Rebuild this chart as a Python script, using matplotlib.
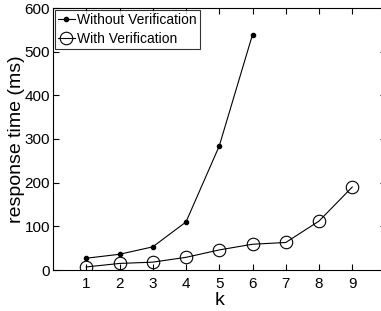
import matplotlib.pyplot as plt
import numpy as np

plt.rcParams['font.family'] = ['Liberation Sans', 'DejaVu Sans']

# data
k_without = [1, 2, 3, 4, 5, 6]
t_without = [27, 36, 53, 110, 284, 539]
k_with = [1, 2, 3, 4, 5, 6, 7, 8, 9]
t_with = [7, 15, 18, 29, 46, 59, 63, 112, 190]
x_ticks = [1, 2, 3, 4, 5, 6, 7, 8, 9]
y_ticks = [0, 100, 200, 300, 400, 500, 600]

fig = plt.figure(figsize=(3.81, 3.11), dpi=100)
# axes runs past the right edge of the figure, as in the reference
ax = fig.add_axes([53/381, (311-270)/311, (385.5-53)/381, (270-8)/311])

ax.plot(k_without, t_without, 'k-', marker='.', markersize=6, linewidth=0.8,
        label='Without Verification')
ax.plot(k_with, t_with, 'k-', marker='o', markersize=9, markerfacecolor='none',
        markeredgewidth=0.8, linewidth=0.8, label='With Verification')

ax.set_xlim(0, 10)
ax.set_ylim(0, 600)
ax.set_xticks(x_ticks)
ax.set_yticks(y_ticks)
ax.tick_params(direction='in', top=True, right=True, labelsize=11, length=4)
ax.tick_params(axis='x', pad=5)
ax.tick_params(axis='y', pad=2)
ax.set_xlabel('k', fontsize=14)
ax.xaxis.set_label_coords(0.5, -0.085)
ax.set_ylabel('response time (ms)', fontsize=14)
ax.yaxis.set_label_coords(-0.083, 0.5)

leg = ax.legend(loc='upper left', fontsize=10,
                frameon=True, fancybox=False,
                edgecolor='k', borderpad=0.2, handlelength=1.2, handletextpad=0.2,
                labelspacing=0.35, borderaxespad=0.15)
leg.get_frame().set_linewidth(0.8)

fig.savefig('out.png', dpi=100)
